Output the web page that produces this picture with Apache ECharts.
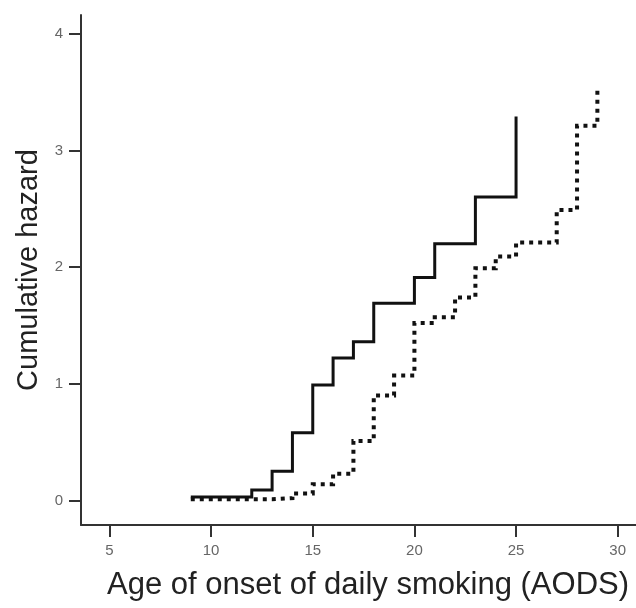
<!DOCTYPE html>
<html>
<head>
<meta charset="utf-8">
<script src="https://cdn.jsdelivr.net/npm/echarts@6/dist/echarts.min.js"></script>
<style>html,body{margin:0;padding:0;background:#fff}#c{width:636px;height:608px}</style>
</head>
<body>
<div id="c"></div>
<script>
// Group 1 (solid line): [age, cumulative hazard]
const solidAges   = [9, 12, 13, 14, 15, 16, 17, 18, 20, 21, 23, 25];
const solidHazard = [0.03, 0.09, 0.25, 0.58, 0.99, 1.22, 1.36, 1.69, 1.91, 2.20, 2.60, 3.29];
// Group 2 (dotted line)
const dotAges   = [9, 12, 13, 14, 15, 16, 17, 18, 19, 20, 21, 22, 23, 24, 25, 27, 28, 29];
const dotHazard = [0.01, 0.01, 0.02, 0.06, 0.14, 0.23, 0.51, 0.90, 1.07, 1.52, 1.57, 1.74, 1.99, 2.09, 2.21, 2.49, 3.21, 3.55];
// Tick labels
const xTicks = [5, 10, 15, 20, 25, 30];
const yTicks = [0, 1, 2, 3, 4];
const xTitle = 'Age of onset of daily smoking (AODS)';
const yTitle = 'Cumulative hazard';

const pair = (a, b) => a.map((v, i) => [v, b[i]]);
const font = 'Liberation Sans, Arial, sans-serif';
const chart = echarts.init(document.getElementById('c'));
chart.setOption({
  animation: false,
  grid: { left: 81, right: 0, top: 15, bottom: 83 },
  xAxis: {
    type: 'value', min: 3.6, max: 30.9,
    name: xTitle, nameLocation: 'middle', nameGap: 45,
    nameTextStyle: { fontFamily: font, fontSize: 31, color: '#222', padding: [0, 0, 0, 19] },
    axisLine: { show: true, onZero: false, lineStyle: { color: '#333', width: 2 } },
    axisTick: { show: true, customValues: xTicks, length: 12, lineStyle: { color: '#333', width: 2 } },
    axisLabel: { customValues: xTicks, margin: 18, fontFamily: font, fontSize: 15, color: '#666' },
    splitLine: { show: false }
  },
  yAxis: {
    type: 'value', min: -0.21, max: 4.16,
    name: yTitle, nameLocation: 'middle', nameGap: 35,
    nameTextStyle: { fontFamily: font, fontSize: 29, color: '#222', padding: [0, 0, 0, 0] },
    axisLine: { show: true, onZero: false, lineStyle: { color: '#333', width: 2 } },
    axisTick: { show: true, customValues: yTicks, length: 12, lineStyle: { color: '#333', width: 2 } },
    axisLabel: { customValues: yTicks, margin: 18, fontFamily: font, fontSize: 15, color: '#666' },
    splitLine: { show: false }
  },
  series: [
    {
      type: 'line', step: 'end', symbol: 'none',
      data: pair(solidAges, solidHazard),
      lineStyle: { color: '#111', width: 3, cap: 'butt', join: 'miter' }
    },
    {
      type: 'line', step: 'end', symbol: 'none',
      data: pair(dotAges, dotHazard),
      lineStyle: { color: '#111', width: 4, type: [4, 5], cap: 'butt', join: 'miter' }
    }
  ]
});
</script>
</body>
</html>
